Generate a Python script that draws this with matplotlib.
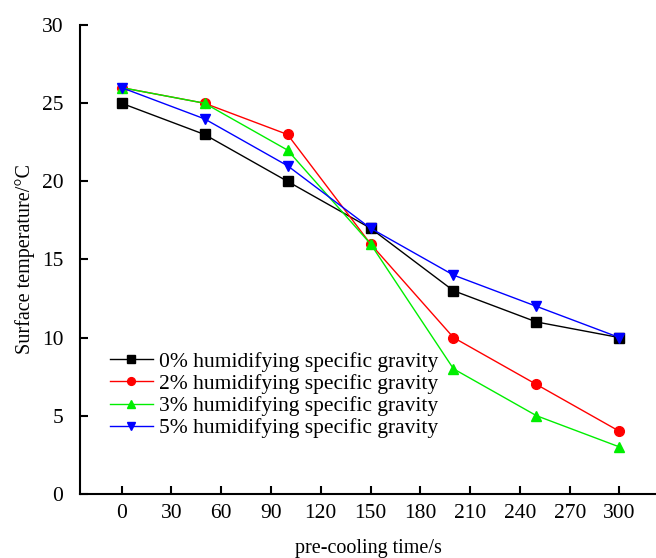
import matplotlib
matplotlib.use("Agg")
import matplotlib.pyplot as plt

# Data
time_s = [0, 50, 100, 150, 200, 250, 300]
temp_0 = [25, 23, 20, 17, 13, 11, 10]
temp_2 = [26, 25, 23, 16, 10, 7, 4]
temp_3 = [26, 25, 22, 16, 8, 5, 3]
temp_5 = [26, 24, 21, 17, 14, 12, 10]
labels = ["0% humidifying specific gravity", "2% humidifying specific gravity",
          "3% humidifying specific gravity", "5% humidifying specific gravity"]
x_ticks = [0, 30, 60, 90, 120, 150, 180, 210, 240, 270, 300]
y_ticks = [0, 5, 10, 15, 20, 25, 30]

plt.rcParams["font.family"] = ["Liberation Serif", "DejaVu Serif"]
plt.rcParams["font.size"] = 15.5

fig = plt.figure(figsize=(6.56, 5.58), dpi=100)
ax = fig.add_axes([0.122, 0.115, 0.878, 0.84])

series = [(temp_0, "black", "s"), (temp_2, "red", "o"),
          (temp_3, "#00ee00", "^"), (temp_5, "blue", "v")]
for (vals, col, mk), lab in zip(series, labels):
    ax.plot(time_s, vals, color=col, marker=mk, markersize=7, linewidth=1.0, label=lab)

ax.set_xlim(-25, 322)
ax.set_ylim(0, 30)
ax.set_xticks(x_ticks)
ax.set_yticks(y_ticks)
ax.tick_params(direction="in", length=6, width=1.5, labelsize=15.5)
ax.tick_params(axis="x", pad=7)
ax.tick_params(axis="y", pad=12)
for side in ["top", "right"]:
    ax.spines[side].set_visible(False)
for side in ["left", "bottom"]:
    ax.spines[side].set_linewidth(1.5)

ax.set_xlabel("pre-cooling time/s", fontsize=14.5, labelpad=12)
ax.set_ylabel("Surface temperature/°C", fontsize=14.5, labelpad=5)

ax.legend(loc="lower left", bbox_to_anchor=(0.037, 0.1), frameon=False,
          handlelength=2.0, handletextpad=0.3, labelspacing=0.1,
          markerscale=0.8, fontsize=15.5, borderaxespad=0)

fig.savefig("out.png", dpi=100)
